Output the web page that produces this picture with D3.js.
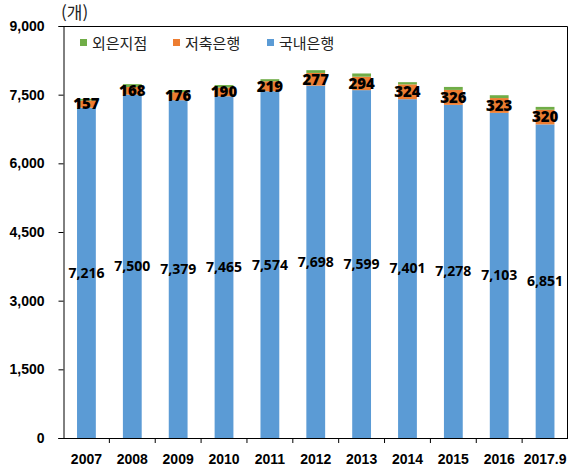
<!DOCTYPE html>
<html lang="ko">
<head>
<meta charset="UTF-8">
<title>D3</title>
<script src="https://d3js.org/d3.v7.min.js"></script>
<style>
    body { margin: 0; background: #fff; }
    svg { display: block; font-family: "Open Sans", "Noto Sans CJK KR", sans-serif; }
    .axis text { font-size: 14px; font-weight: bold; fill: #000; }
    .axis path, .axis line { stroke: #000; }
    .lab { font-size: 14px; font-weight: bold; fill: #000; text-anchor: middle; }
    .leg { font-size: 15px; fill: #222; font-family: "Noto Sans CJK KR", sans-serif; }
</style>
</head>
<body>
<svg id="canvas" width="569" height="472"></svg>
<script>
    // 연도별 은행 점포 수
    let years = ["2007","2008","2009","2010","2011","2012","2013","2014","2015","2016","2017.9"];
    let domestic = [7216, 7500, 7379, 7465, 7574, 7698, 7599, 7401, 7278, 7103, 6851];
    let savings = [157, 168, 176, 190, 219, 277, 294, 324, 326, 323, 320];
    let foreign = [35, 62, 46, 55, 45, 60, 70, 48, 65, 62, 62];
    let seriesNames = ["국내은행", "저축은행", "외은지점"];
    let colors = ["#5b9bd5", "#ed7d31", "#70ad47"];
    let yTicks = [0, 1500, 3000, 4500, 6000, 7500, 9000];

    let svg = d3.select("svg");
    let mLeft = 63.5, mRight = 568, mTop = 26, mBottom = 438;

    let x = d3.scaleBand().domain(years).range([mLeft, mRight])
        .paddingInner(0.59).paddingOuter(0.295);
    let y = d3.scaleLinear().domain([0, 9000]).range([mBottom, mTop]);

    let rows = years.map(function (d, i) {
        return {year: d, "국내은행": domestic[i], "저축은행": savings[i], "외은지점": foreign[i]};
    });
    let stack = d3.stack().keys(seriesNames)(rows);

    // bars
    svg.append("g").selectAll("g")
        .data(stack).enter().append("g")
        .attr("fill", function (d, i) { return colors[i]; })
        .selectAll("rect")
        .data(function (d) { return d; }).enter().append("rect")
        .attr("x", function (d) { return x(d.data.year); })
        .attr("width", x.bandwidth())
        .attr("y", function (d) { return y(d[1]); })
        .attr("height", function (d) { return y(d[0]) - y(d[1]); });

    // frame
    svg.append("path")
        .attr("d", "M" + mLeft + "," + (mTop + 0.5) + "H" + (mRight - 0.5) + "V" + mBottom)
        .attr("fill", "none").attr("stroke", "#000");

    // y axis
    svg.append("g").attr("class", "axis")
        .attr("transform", "translate(" + mLeft + ",0)")
        .call(d3.axisLeft(y).tickValues(yTicks).tickSize(5).tickPadding(14).tickFormat(d3.format(",")));

    // x axis
    let xa = svg.append("g").attr("class", "axis")
        .attr("transform", "translate(0," + mBottom + ")")
        .call(d3.axisBottom(x).tickSize(0).tickPadding(16));
    xa.select(".domain").attr("d", "M" + (mLeft - 5) + ",0.5H" + mRight);
    let bounds = years.map(function (d, i) { return mLeft + x.step() * (i + 1); }).slice(0, -1);
    xa.selectAll(".bt").data(bounds).enter().append("line")
        .attr("x1", function (d) { return d; }).attr("x2", function (d) { return d; })
        .attr("y1", 0).attr("y2", 5).attr("stroke", "#000");

    // labels
    svg.append("g").selectAll("text")
        .data(stack[0]).enter().append("text").attr("class", "lab")
        .attr("x", function (d) { return x(d.data.year) + x.bandwidth() / 2; })
        .attr("y", function (d) { return (y(d[0]) + y(d[1])) / 2; })
        .attr("dy", "0.35em")
        .text(function (d) { return d3.format(",")(d[1] - d[0]); });
    svg.append("g").selectAll("text")
        .data(stack[1]).enter().append("text").attr("class", "lab")
        .style("font-size", "15px").style("font-weight", "800")
        .attr("x", function (d) { return x(d.data.year) + x.bandwidth() / 2; })
        .attr("y", function (d) { return (y(d[0]) + y(d[1])) / 2; })
        .attr("dy", "0.35em")
        .text(function (d) { return d[1] - d[0]; });

    // unit
    svg.append("text").attr("x", 61).attr("y", 19).attr("class", "leg")
        .style("font-size", "17px").attr("fill", "#444").text("(개)");

    // legend
    let legendItems = [
        {name: "외은지점", color: colors[2], x: 80},
        {name: "저축은행", color: colors[1], x: 173},
        {name: "국내은행", color: colors[0], x: 267}
    ];
    let lg = svg.append("g").selectAll("g").data(legendItems).enter().append("g")
        .attr("transform", function (d) { return "translate(" + d.x + ",39)"; });
    lg.append("rect").attr("width", 7).attr("height", 7).attr("fill", function (d) { return d.color; });
    lg.append("text").attr("class", "leg").attr("x", 12).attr("y", 4).attr("dy", "0.38em")
        .text(function (d) { return d.name; });
</script>
</body>
</html>
